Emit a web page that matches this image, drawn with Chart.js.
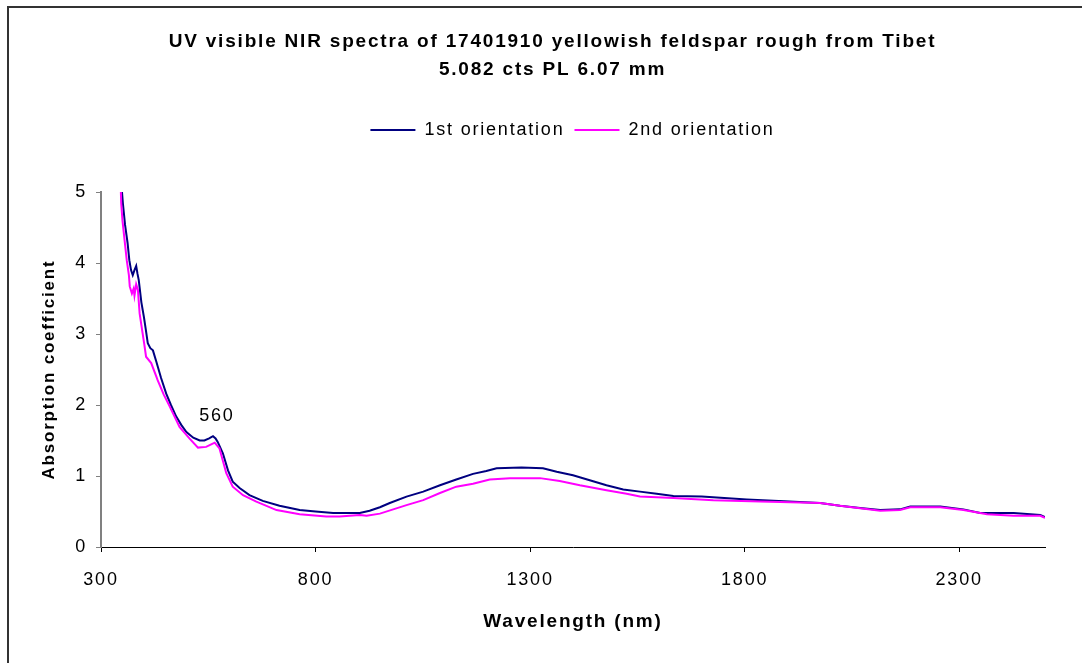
<!DOCTYPE html>
<html>
<head>
<meta charset="utf-8">
<script src="https://cdn.jsdelivr.net/npm/chart.js@4"></script>
<style>
  body { margin: 0; background: #fff; overflow: hidden; }
  #frame { position: absolute; left: 7px; top: 6px; width: 2000px; height: 2000px;
           border-left: 2px solid #333; border-top: 2px solid #333; }
  #wrap { position: absolute; left: 0; top: 0; width: 1082px; height: 663px; }
</style>
</head>
<body>
<div id="frame"></div>
<div id="wrap"><canvas id="chart" width="1082" height="663"></canvas></div>
<script>
// wavelengths (nm) and absorption coefficients
var wl1 = [345, 351, 356, 362, 366, 370, 374, 378, 382, 385, 388, 394, 400, 404, 409, 415, 421, 429, 440, 452,
  463, 475, 487, 499, 515, 530, 541, 552, 561, 567, 572, 584, 596, 607, 623, 646, 677, 716, 763, 800,
  841, 870, 903, 926, 950, 973, 1012, 1051, 1090, 1128, 1167, 1198, 1222, 1280, 1330, 1362, 1400, 1439,
  1478, 1517, 1556, 1595, 1634, 1700, 1805, 1867, 1976, 2022, 2069, 2116, 2162, 2186, 2256, 2310, 2349,
  2427, 2489, 2500];
var abs1 = [5.3, 4.84, 4.54, 4.28, 4.04, 3.90, 3.83, 3.90, 3.96, 3.85, 3.76, 3.45, 3.24, 3.08, 2.87, 2.80, 2.77, 2.61, 2.38, 2.16,
  2.00, 1.84, 1.72, 1.62, 1.54, 1.50, 1.50, 1.53, 1.56, 1.53, 1.48, 1.32, 1.08, 0.92, 0.83, 0.73, 0.65, 0.58, 0.52, 0.50,
  0.48, 0.48, 0.48, 0.51, 0.56, 0.62, 0.71, 0.78, 0.87, 0.95, 1.03, 1.07, 1.11, 1.12, 1.11, 1.06, 1.01, 0.94,
  0.87, 0.81, 0.78, 0.75, 0.72, 0.71, 0.67, 0.65, 0.62, 0.58, 0.55, 0.52, 0.53, 0.57, 0.57, 0.53, 0.48,
  0.48, 0.45, 0.42];

var wl2 = [345, 347, 350, 355, 360, 365, 367, 372, 376, 378, 382, 386, 390, 397, 401, 405, 417, 429, 432, 446,
  460, 483, 506, 526, 545, 558, 565, 576, 592, 607, 631, 662, 709, 763, 825, 856, 903, 919, 950, 1012,
  1051, 1090, 1128, 1167, 1206, 1253, 1323, 1369, 1416, 1478, 1525, 1556, 1634, 1727, 1836, 1976, 2022,
  2116, 2162, 2186, 2256, 2310, 2365, 2427, 2489, 2500];
var abs2 = [5.3, 4.85, 4.60, 4.32, 4.04, 3.83, 3.67, 3.57, 3.64, 3.54, 3.70, 3.62, 3.29, 3.01, 2.85, 2.68, 2.59, 2.40, 2.35, 2.15,
  1.98, 1.69, 1.53, 1.40, 1.41, 1.45, 1.47, 1.39, 1.04, 0.85, 0.73, 0.64, 0.52, 0.46, 0.43, 0.43, 0.45, 0.44, 0.47, 0.59,
  0.66, 0.76, 0.85, 0.89, 0.95, 0.97, 0.97, 0.93, 0.87, 0.80, 0.75, 0.71, 0.69, 0.66, 0.64, 0.62, 0.58,
  0.51, 0.52, 0.56, 0.56, 0.52, 0.46, 0.44, 0.44, 0.41];

var seriesNames = ["1st orientation", "2nd orientation"];
var xTicks = [300, 800, 1300, 1800, 2300];
var peakLabel = "560";
var peakPos = [570, 1.84];

function toPoints(xs, ys) {
  var pts = [];
  for (var i = 0; i < xs.length; i++) pts.push({ x: xs[i], y: ys[i] });
  return pts;
}

var FONT = "'Liberation Sans', Arial, sans-serif";

// nudge a layout box sideways when it is drawn
function shiftDraw(box, dx) {
  const draw = box.draw;
  box.draw = function () {
    const ctx = this.ctx;
    ctx.save();
    ctx.translate(dx, 0);
    draw.apply(this, arguments);
    ctx.restore();
  };
}

// the original text is drawn wide, so spread the letters a bit
const spacingPlugin = {
  id: "spacing",
  beforeUpdate(chart) { chart.ctx.letterSpacing = "1.8px"; },
  beforeDraw(chart) { chart.ctx.letterSpacing = "1.8px"; },
  beforeInit(chart) {
    const legend = chart.legend;
    if (legend) {
      // leave room between the legend and the plot
      const fit = legend.fit;
      legend.fit = function () {
        fit.call(this);
        this.height += 43;
      };
      shiftDraw(legend, 50);
    }
    if (chart.titleBlock) shiftDraw(chart.titleBlock, 30);
  },
};

const peakPlugin = {
  id: "peak",
  afterDatasetsDraw(chart) {
    const ctx = chart.ctx;
    ctx.save();
    ctx.font = "18px " + FONT;
    ctx.fillStyle = "#000";
    ctx.textAlign = "center";
    ctx.textBaseline = "middle";
    ctx.fillText(peakLabel, chart.scales.x.getPixelForValue(peakPos[0]), chart.scales.y.getPixelForValue(peakPos[1]));
    ctx.restore();
  }
};

const config = {
  type: "line",
  data: {
    datasets: [
      {
        label: seriesNames[0],
        data: toPoints(wl1, abs1),
        borderColor: "#000080",
        backgroundColor: "#000080",
        borderWidth: 2,
        pointRadius: 0,
        tension: 0,
        order: 1,
      },
      {
        label: seriesNames[1],
        data: toPoints(wl2, abs2),
        borderColor: "#ff00ff",
        backgroundColor: "#ff00ff",
        borderWidth: 2,
        pointRadius: 0,
        tension: 0,
        order: 0,
      },
    ],
  },
  options: {
    responsive: false,
    animation: false,
    layout: { padding: { left: 0, right: 37, top: 0, bottom: 0 } },
    plugins: {
      title: {
        display: true,
        text: ["UV visible NIR spectra of 17401910 yellowish feldspar rough from Tibet", "5.082 cts PL 6.07 mm"],
        color: "#000",
        font: { family: FONT, size: 19, weight: "bold", lineHeight: 1.474 },
        padding: { top: 28, bottom: 27 },
      },
      legend: {
        labels: {
          color: "#000",
          font: { family: FONT, size: 18 },
          boxWidth: 45,
          boxHeight: 0,
          padding: 10,
          sort: (a, b) => a.datasetIndex - b.datasetIndex,
        },
      },
      tooltip: { enabled: false },
    },
    scales: {
      x: {
        type: "linear",
        min: 300,
        max: 2500,
        afterBuildTicks: (s) => { s.ticks = xTicks.map((v) => ({ value: v })); },
        afterFit: (s) => { s.height = 116; },
        grid: { drawOnChartArea: false, drawTicks: true, tickLength: 5, color: "#000" },
        border: { color: "#000", width: 1 },
        ticks: { color: "#000", font: { family: FONT, size: 18 }, padding: 17, maxRotation: 0, callback: (v) => v },
        title: {
          display: true,
          text: "Wavelength (nm)",
          color: "#000",
          font: { family: FONT, size: 19, weight: "bold" },
          padding: { top: 4, bottom: 30 },
        },
      },
      y: {
        min: 0,
        max: 5,
        afterFit: (s) => { s.width = 101; },
        grid: { drawOnChartArea: false, drawTicks: true, tickLength: 5, color: "#808080" },
        border: { color: "#808080", width: 2 },
        ticks: { stepSize: 1, color: "#000", font: { family: FONT, size: 18 }, padding: 9 },
        title: {
          display: true,
          text: "Absorption coefficient",
          color: "#000",
          font: { family: FONT, size: 17, weight: "bold" },
          padding: { top: 39, bottom: 4 },
        },
      },
    },
  },
  plugins: [spacingPlugin, peakPlugin],
};

_ = new Chart(document.getElementById("chart"), config);
</script>
</body>
</html>
